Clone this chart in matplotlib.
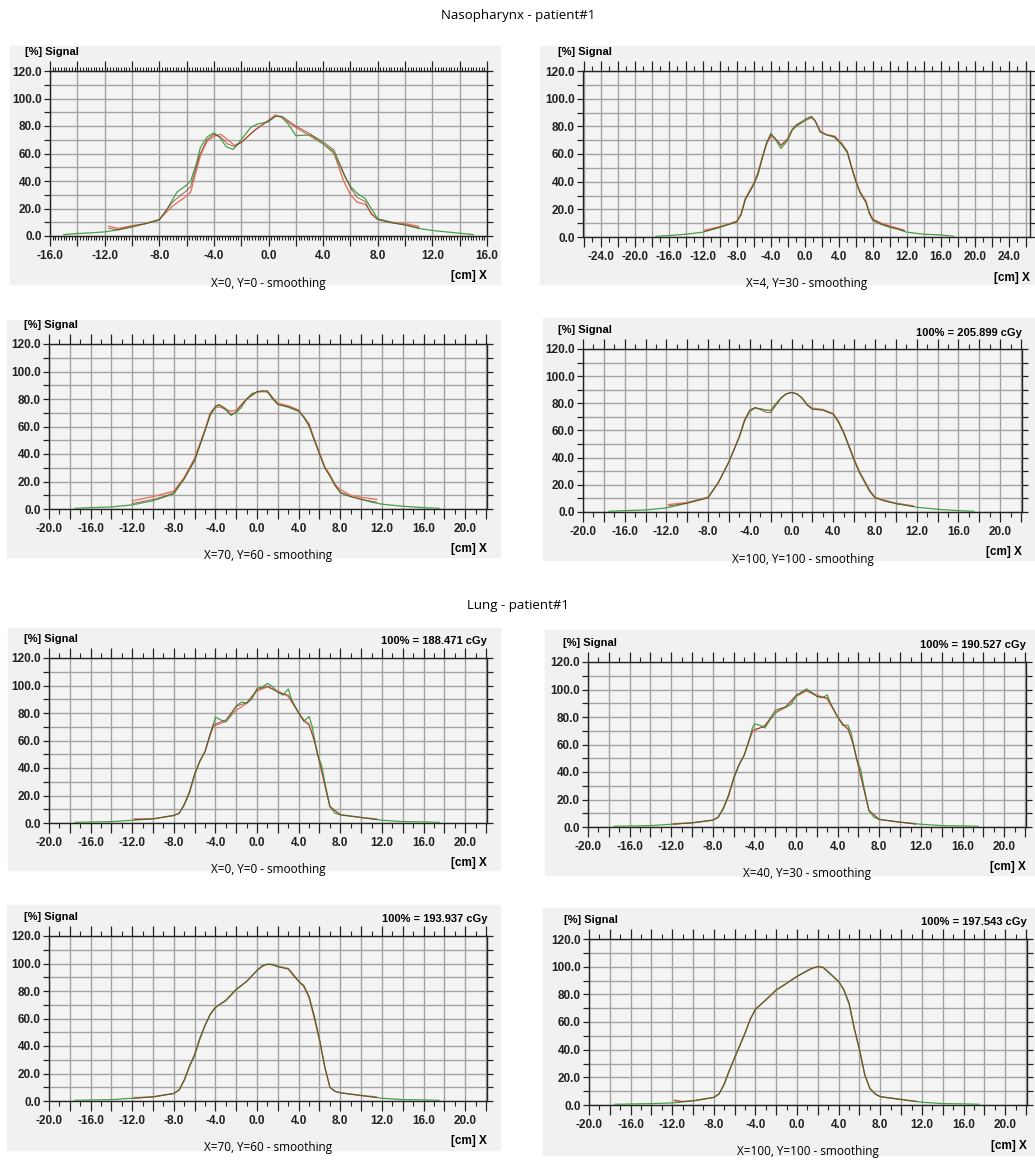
import matplotlib
matplotlib.use("Agg")
import matplotlib.pyplot as plt
from matplotlib.patches import Rectangle
from matplotlib.ticker import MultipleLocator, FuncFormatter

W, H = 1035, 1166

# ---- data: green = measured, red / dark = calculated profiles ----
# Nasopharynx X=0, Y=0
naso1_gx = [-15, -14, -13, -12, -11, -10, -9, -8, -7.4, -6.7, -6, -5.7, -5.3, -5, -4.5, -4, -3.6, -3.1, -2.6, -2.3, -2,
            -1.3, -0.8, 0, 0.5, 0.9, 1.4, 2, 3.1, 4, 4.7, 5.05, 5.6, 6.05, 6.5, 7.1, 7.4, 8, 9, 10, 11, 12, 13, 14, 15]
naso1_gy = [1, 1.8, 2.3, 3, 4.5, 6.5, 9, 11.5, 20, 32, 37, 40, 52, 64, 72, 75, 72, 65, 63, 66, 70,
            79, 81.5, 83, 87, 87, 82, 73, 73.5, 67, 62, 55, 43, 35.5, 31, 27, 22, 12.5, 10, 8, 5.5, 4, 3, 2, 1]
naso1_cx = [-11.7, -11, -10, -9, -8, -7, -6, -5.7, -5, -4.5, -4, -3.5, -3, -2.5, -2, -1, 0, 0.5, 1, 2, 3, 4, 4.8,
            5.5, 6, 6.5, 7.1, 7.5, 8, 9, 10, 11]
naso1_ry = [7, 5.5, 7.5, 9, 12, 22, 29, 32, 58, 69, 72.5, 74, 70, 66, 68, 77, 84, 88, 86, 79, 73, 67, 60,
            40, 30, 24.5, 23, 17, 12, 10, 9, 7]
naso1_ky = [5.5, 4.5, 7, 9, 12, 25, 33, 36, 60, 70, 74, 72, 67, 65, 68, 77, 84, 87, 87, 80, 74.5, 68.5, 62.5,
            46, 35, 28, 25, 16, 12, 9.5, 8, 6]

# Nasopharynx X=4, Y=30
naso2_gx = [-17.5, -16, -14, -12, -10, -8, -7.5, -7, -6, -5.5, -5, -4.5, -4, -3.5, -2.8, -2, -1.5, -1, 0, 0.5, 0.8,
            1.2, 1.8, 2.5, 3.5, 4.3, 5, 5.5, 6, 6.5, 7.2, 7.6, 8, 9, 10, 11, 12, 14, 16, 17.5]
naso2_gy = [0.5, 1, 2, 3.5, 7, 11, 16, 27, 38, 45, 57, 68, 75, 71, 64, 70, 77, 80, 84, 86, 87,
            84, 76, 74, 72, 67, 61, 50, 40, 32, 25, 17, 12, 9, 7, 5.5, 3.5, 2, 1.5, 0.5]
naso2_cx = [-11.8, -10, -8, -7.5, -7, -6, -5.5, -5, -4.5, -4, -3.5, -2.8, -2, -1.5, -1, 0, 0.5, 0.8, 1.2, 1.8,
            2.5, 3.5, 4.3, 5, 5.5, 6, 6.5, 7.2, 7.6, 8, 9, 10, 11.7]
naso2_ry = [5, 7.5, 11.5, 17, 28, 39, 47, 58, 67, 73, 71, 66, 71, 77, 81, 84, 85.5, 86, 84, 77,
            74, 73, 68, 62, 51, 41, 33, 26, 18, 13, 10, 8, 5]
naso2_ky = [4, 7, 11, 16, 27, 38, 46, 57, 68, 74, 71.5, 66.5, 71, 78, 81, 85, 86.5, 87, 84.5, 76,
            74, 72.5, 67.5, 61.5, 50.5, 40.5, 32, 25, 17, 12.5, 9.5, 7.5, 4.5]

# Nasopharynx X=70, Y=60
naso3_gx = [-17.5, -16, -14, -12, -10, -8, -7, -6, -5, -4.5, -4, -3.7, -3, -2.5, -2, -1.5, -1, -0.5, 0, 0.5, 1,
            1.5, 2, 3, 4, 4.5, 5, 5.5, 6, 6.5, 7, 7.5, 8, 9, 10, 11, 12, 14, 16, 17.5]
naso3_gy = [0.5, 1, 1.5, 3, 6, 11, 22, 35, 57, 68, 74, 76, 73, 68.5, 70, 74, 80, 84, 85, 86, 85,
            80, 76, 74, 71, 67, 60, 50, 40, 30, 24, 17, 12, 9, 7, 5, 3.5, 2, 1, 0.5]
naso3_cx = [-12, -11, -10, -9, -8, -7, -6, -5, -4.5, -4, -3.5, -2.5, -2, -1, 0, 1, 1.5, 2, 3, 4, 5, 5.5, 6,
            6.5, 7, 7.5, 8, 9, 10, 11.5]
naso3_ry = [6, 7.5, 9, 11, 13, 23, 37, 58, 70, 74, 74, 71, 72, 80, 85, 85.5, 81, 77, 75, 72, 62, 51, 41,
            31, 25, 18, 14, 10, 8.5, 7]
naso3_ky = [4, 5.5, 7, 9, 12, 22, 36, 57, 69, 75, 75.5, 68, 71, 80, 85.5, 86, 80.5, 76, 74.5, 71.5, 61, 50, 40,
            30, 24, 17, 12, 9, 7, 5]

# Nasopharynx X=100, Y=100
naso4_gx = [-17.5, -16, -14, -12, -10, -8, -7, -6, -5, -4.5, -4, -3.5, -3, -2.5, -2, -1.5, -1, -0.5, 0, 0.5, 1,
            1.5, 2, 3, 4, 4.5, 5, 5.5, 6, 6.5, 7, 7.5, 8, 9, 10, 11, 12, 14, 16, 17.5]
naso4_gy = [0.5, 1, 1.5, 3, 6.5, 10.5, 22, 37, 55, 67, 74, 76.5, 76, 75, 75, 80, 84, 87, 88, 87, 84,
            79, 76, 75, 72, 66, 58, 48, 38, 29, 22, 15, 10.5, 8, 6.5, 5, 3.5, 2, 1, 0.5]
naso4_cx = [-11.8, -10, -8, -7, -6, -5, -4.5, -4, -3.5, -3, -2.5, -2, -1.5, -1, -0.5, 0, 0.5, 1, 1.5, 2, 3, 4,
            4.5, 5, 5.5, 6, 6.5, 7, 7.5, 8, 9, 10, 11.7]
naso4_ry = [5.5, 7, 11, 22, 37, 56, 68, 75, 76.5, 76, 75, 74.5, 79, 84, 87, 88, 87, 84, 79, 76.5, 75.5, 72.5,
            67, 59, 49, 39, 30, 23, 16, 11, 8.5, 6.5, 4.5]
naso4_ky = [4.5, 6.5, 10.5, 22, 37, 55.5, 67.5, 75, 77, 75.5, 73.5, 73, 78.5, 84, 87, 88, 87, 84, 78.5, 75.5, 75, 72,
            66.5, 58.5, 48.5, 38.5, 29.5, 22.5, 15.5, 10.5, 8, 6, 4]

# Lung X=0, Y=0
lung1_gx = [-17.5, -14, -12, -10, -8, -7.5, -7, -6.5, -6, -5.5, -5, -4.5, -4.2, -4, -3.5, -3, -2.5, -2, -1.5, -1,
            -0.5, 0, 0.5, 1, 1.5, 2, 2.5, 3, 3.3, 4, 4.5, 5, 5.3, 5.8, 6.2, 6.5, 7, 7.5, 8, 10, 12, 14, 16, 17.5]
lung1_gy = [0.5, 1, 2, 3, 5.5, 7, 13, 22, 35, 45, 52, 65, 72, 77, 75, 73.5, 79, 85, 88, 87,
            90, 98, 99, 101.5, 99, 95, 93, 97.5, 90, 80, 74, 77.5, 70, 50, 42, 30, 12, 7, 6, 4, 2, 1, 0.8, 0.5]
lung1_cx = [-11.8, -10, -8, -7.5, -7, -6.5, -6, -5.5, -5, -4.5, -4.2, -4, -3, -2, -1, 0, 1, 2, 3, 4, 4.5, 5,
            5.5, 6, 6.5, 7, 8, 10, 11.5]
lung1_ry = [3, 3, 5.5, 7, 13, 22, 35, 45, 52, 64, 70, 71, 74, 82, 87, 96, 99, 96, 92, 80, 75, 72,
            60, 45, 28, 12, 6, 4, 3]
lung1_ky = [2.5, 3, 5.5, 7, 14, 23, 36, 45, 52, 65, 71, 72, 75, 85, 87.5, 97, 99.5, 95, 93, 80, 74, 71,
            60, 44, 28, 12, 6, 4, 2.5]

# Lung X=40, Y=30
lung2_gx = lung1_gx
lung2_gy = [0.5, 1, 2, 3, 5, 7, 13, 23, 35, 45, 52, 63, 72, 75, 74, 72, 78, 83, 86, 87,
            89, 95, 98, 100.5, 98, 95, 94, 96, 90, 80, 74, 74, 68, 50, 42, 30, 12, 7, 5.5, 3.5, 2, 1, 0.8, 0.5]
lung2_cx = lung1_cx
lung2_ry = [2.5, 3, 5, 7, 13, 22, 35, 45, 52, 63, 69, 70, 74, 83, 87, 95, 99, 96, 93, 80, 75, 71.5,
            60, 44, 28, 12, 5.5, 3.5, 2.5]
lung2_ky = [2, 3, 5, 7, 14, 23, 36, 45, 52, 64, 70, 71, 73, 85, 87.5, 96, 99.5, 95, 94, 80, 74, 71,
            60, 44, 28, 12, 5.5, 3.5, 2]

# Lung X=70, Y=60
lung3_gx = [-17.5, -14, -12, -10, -8, -7.5, -7, -6.5, -6, -5.5, -5, -4.5, -4, -3, -2, -1, 0, 0.5, 1, 1.5, 2, 3,
            3.5, 4, 4.5, 5, 5.5, 6, 6.5, 7, 7.5, 8, 10, 12, 14, 16, 17.5]
lung3_gy = [0.5, 1, 2, 3, 5.5, 8, 15, 25, 33, 45, 55, 63, 68, 73, 81, 87, 95, 98, 99.5, 99.5, 98, 96,
            91, 87, 84, 76, 62, 45, 25, 10, 7, 6, 4, 2, 1, 0.8, 0.5]
lung3_cx = [-11.8, -10, -8, -7.5, -7, -6.5, -6, -5.5, -5, -4.5, -4, -3, -2, -1, 0, 0.5, 1, 1.5, 2, 3, 3.5, 4,
            4.5, 5, 5.5, 6, 6.5, 7, 7.5, 8, 10, 11.5]
lung3_ry = [2.5, 3, 5.5, 8, 15, 25, 34, 45, 55, 63, 68.5, 73, 81, 87, 95, 98, 99.5, 99, 98, 96.5, 92, 87,
            83, 75, 60, 44, 25, 10, 7, 6, 4, 3]
lung3_ky = [2, 3, 5.5, 8, 15.5, 25.5, 34, 46, 55, 63, 68, 73.5, 81.5, 87, 95, 98.5, 99.5, 99, 97.5, 96, 91.5, 87,
            83.5, 75.5, 61, 45, 25, 10, 7, 6, 4, 2.5]

# Lung X=100, Y=100
lung4_gx = [-17.5, -14, -12, -10, -8, -7.5, -7, -6.5, -6, -5, -4.5, -4, -3, -2, -1, 0, 1, 1.5, 2, 2.5, 3, 4,
            4.5, 5, 5.5, 6, 6.5, 7, 7.5, 8, 10, 12, 14, 16, 17.5]
lung4_gy = [0.5, 1, 1.5, 3, 5.5, 8, 15, 25, 34, 52, 62, 69, 76, 83, 88, 93, 97, 99, 100, 99.5, 96, 89,
            83, 73, 55, 40, 22, 12, 8, 6, 4, 2, 1, 0.8, 0.5]
lung4_cx = [-11.8, -11, -10, -8, -7.5, -7, -6.5, -6, -5, -4.5, -4, -3, -2, -1, 0, 1, 1.5, 2, 2.5, 3, 4,
            4.5, 5, 5.5, 6, 6.5, 7, 7.5, 8, 10, 11.5]
lung4_ry = [3.5, 2.5, 3, 5.5, 8, 15, 25, 34, 52, 62, 69, 76, 83, 88, 93, 97, 99, 100, 99.5, 96, 89,
            83, 73, 55, 40, 22, 12, 8, 6, 4, 2.5]
lung4_ky = [3, 2.5, 3, 5.5, 8, 15.5, 25.5, 34.5, 52, 62, 69.5, 76, 83.5, 88, 93, 97.5, 99, 100, 99.5, 96.5, 89.5,
            83.5, 74, 56, 40, 22, 12, 8, 6, 4, 2.5]

captions = ["X=0, Y=0 - smoothing", "X=4, Y=30 - smoothing", "X=70, Y=60 - smoothing", "X=100, Y=100 - smoothing",
            "X=0, Y=0 - smoothing", "X=40, Y=30 - smoothing", "X=70, Y=60 - smoothing", "X=100, Y=100 - smoothing"]
doses = [None, None, None, "205.899", "188.471", "190.527", "193.937", "197.543"]
section_titles = ["Nasopharynx - patient#1", "Lung - patient#1"]

# ---- layout (pixels) ----
# axes: left, top, right, bottom ; box: left, top, right, bottom
axes_px = [(50, 71, 487, 236), (583, 71, 1030, 237), (49, 344, 487, 509), (583, 349, 1022, 512),
           (49, 658, 487, 823), (588, 662, 1026, 827), (49, 936, 487, 1101), (589, 939, 1027, 1105)]
box_px = [(10, 46, 500, 284), (540, 46, 1035, 284), (7, 320, 500, 557), (543, 318, 1035, 560),
          (8, 628, 500, 870), (545, 630, 1035, 875), (7, 905, 500, 1150), (543, 908, 1035, 1155)]
xlims = [(-16, 16), (-26.1, 26.5)] + [(-20, 22.1)] * 6

GREEN = "#47a047"
RED = "#e4765e"
DARK = "#7a3422"
TICKFONT = ["Liberation Sans", "DejaVu Sans"]
CAPFONT = ["Open Sans", "DejaVu Sans"]

fig = plt.figure(figsize=(W / 100, H / 100), dpi=100)
fig.patch.set_facecolor("white")


def fx(p):
    return p / W


def fy(p):
    return 1 - p / H


def fmt_x(v, pos):
    if abs(v / 4 - round(v / 4)) < 1e-6:
        return "%.1f" % v
    return ""


def draw_panel(i, gx, gy, cx, ry, ky):
    bl, bt, br, bb = box_px[i]
    fig.patches.append(Rectangle((fx(bl), fy(bb)), fx(br - bl), (bb - bt) / H,
                                 transform=fig.transFigure, color="#f1f1f2", zorder=-10))
    l, t, r, b = axes_px[i]
    ax = fig.add_axes([fx(l), fy(b), fx(r - l), (b - t) / H])
    ax.set_facecolor("#f4f4f5")
    ax.plot(cx, ry, color=RED, lw=1.0, zorder=3, solid_joinstyle="round")
    ax.plot(gx, gy, color=GREEN, lw=0.9, zorder=4, solid_joinstyle="round")
    ax.plot(cx, ky, color=DARK, lw=0.6, alpha=0.85, zorder=5, solid_joinstyle="round")
    ax.set_xlim(*xlims[i])
    ax.set_ylim(0, 120)
    ax.xaxis.set_major_locator(MultipleLocator(2))
    ax.xaxis.set_minor_locator(MultipleLocator(0.2 if i == 0 else 1))
    ax.xaxis.set_major_formatter(FuncFormatter(fmt_x))
    ax.yaxis.set_major_locator(MultipleLocator(20))
    ax.yaxis.set_minor_locator(MultipleLocator(10))
    ax.yaxis.set_major_formatter(FuncFormatter(lambda v, p: "%.1f" % v))
    ax.grid(True, which="major", axis="x", color="#a3a3a3", lw=1.0)
    ax.grid(True, which="both", axis="y", color="#a3a3a3", lw=1.0)
    ax.tick_params(axis="x", which="major", direction="out", length=7, width=0.9, top=True, bottom=True,
                   pad=3, colors="#222222")
    ax.tick_params(axis="x", which="minor", direction="out", length=3.5 if i else 3, width=0.8,
                   top=True, bottom=True, colors="#222222")
    ax.tick_params(axis="y", which="both", direction="out", length=4, width=0.9, left=True, right=True,
                   pad=2, colors="#222222")
    for lab in ax.get_xticklabels() + ax.get_yticklabels():
        lab.set_family(TICKFONT)
        lab.set_fontweight("bold")
        lab.set_fontsize(8.5)
    for s in ax.spines.values():
        s.set_color("#222222")
        s.set_linewidth(1)
    ax.set_axisbelow(True)
    ax.text(-0.057, 1.115, "[%] Signal", transform=ax.transAxes, family=TICKFONT, fontweight="bold",
            fontsize=8, ha="left", va="center")
    if doses[i]:
        ax.text(1.0, 1.1, "100%% = %s cGy" % doses[i], transform=ax.transAxes, family=TICKFONT,
                fontweight="bold", fontsize=8, ha="right", va="center")
    ax.text(1.0, -0.245, "[cm] X", transform=ax.transAxes, family=TICKFONT, fontweight="bold",
            fontsize=8.5, ha="right", va="center")
    fig.text(fx((l + r) / 2), fy(b + 47), captions[i], family=CAPFONT, fontsize=8.5, ha="center",
             va="center")
    return ax


draw_panel(0, naso1_gx, naso1_gy, naso1_cx, naso1_ry, naso1_ky)
draw_panel(1, naso2_gx, naso2_gy, naso2_cx, naso2_ry, naso2_ky)
draw_panel(2, naso3_gx, naso3_gy, naso3_cx, naso3_ry, naso3_ky)
draw_panel(3, naso4_gx, naso4_gy, naso4_cx, naso4_ry, naso4_ky)
draw_panel(4, lung1_gx, lung1_gy, lung1_cx, lung1_ry, lung1_ky)
draw_panel(5, lung2_gx, lung2_gy, lung2_cx, lung2_ry, lung2_ky)
draw_panel(6, lung3_gx, lung3_gy, lung3_cx, lung3_ry, lung3_ky)
draw_panel(7, lung4_gx, lung4_gy, lung4_cx, lung4_ry, lung4_ky)

fig.text(fx(518), fy(16), section_titles[0], family=CAPFONT, fontsize=9.5, ha="center", va="center")
fig.text(fx(518), fy(606), section_titles[1], family=CAPFONT, fontsize=9.5, ha="center", va="center")

fig.savefig("out.png", dpi=100)
